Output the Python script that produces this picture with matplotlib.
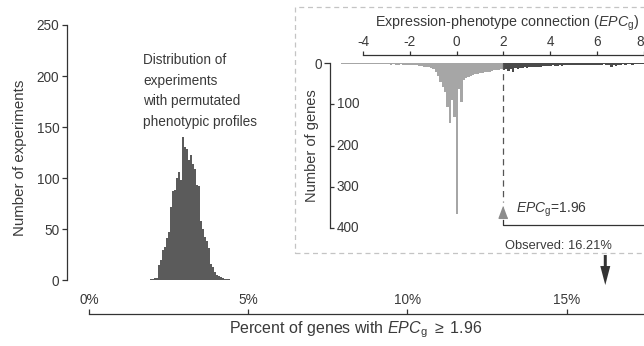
import numpy as np
import matplotlib
matplotlib.use("Agg")
import matplotlib.pyplot as plt
from matplotlib.patches import Rectangle, FancyArrow
from matplotlib.ticker import FixedLocator, FixedFormatter

plt.rcParams['font.family'] = ['Liberation Sans', 'DejaVu Sans']
plt.rcParams['mathtext.fontset'] = 'custom'
plt.rcParams['mathtext.rm'] = 'Liberation Sans'
plt.rcParams['mathtext.it'] = 'Liberation Sans:italic'
plt.rcParams['axes.unicode_minus'] = False

# ---------------- data ----------------
# permutation distribution (percent of genes with EPCg >= 1.96)
perm_bin_start = 1.92
perm_bin_width = 0.0625
perm_counts = [1, 1, 2, 2, 15, 20, 29, 32, 41, 47, 72, 87, 88, 100, 106, 98,
               140, 130, 128, 118, 123, 114, 109, 93, 92, 58, 50, 42, 38, 31,
               16, 13, 8, 5, 4, 3, 2, 1, 1, 1]
perm_xticks = [0, 5, 10, 15]
perm_xticklabels = ['0%', '5%', '10%', '15%']
perm_yticks = [0, 50, 100, 150, 200, 250]
observed_pct = 16.21

# inset: EPCg histogram of genes
epc_threshold = 1.96
epc_bin_width = 0.1
epc_low_counts = [1, 1, 1, 1, 1, 1, 1, 1, 2, 1, 1, 2, 1, 2, 2, 1, 2, 2, 2,
                  2, 2, 3, 2, 3, 3, 2, 3, 3, 4,
                  4, 4, 5, 5, 6,
                  7, 8, 9, 10, 12,
                  15, 20, 30, 45, 58,
                  70, 106, 146, 90, 130, 365, 62, 93, 40, 36, 33, 30, 28, 27,
                  26, 24, 23, 22, 21, 20, 18, 17, 17, 16, 15]
epc_high_counts = [16, 15, 18,
                   13, 20, 12, 14,
                   11, 12, 10, 11,
                   9, 10, 8, 9, 9, 8,
                   7, 6, 6, 7, 5, 6, 6, 5, 6, 5,
                   4, 4, 5, 4, 4, 3, 4, 4, 3, 4, 3, 4, 3, 3,
                   3, 3, 2, 3, 3,
                   8, 3, 7, 3,
                   3, 2, 3, 2, 2, 3, 2, 2, 2, 2, 2,
                   2, 2, 1, 2, 1, 1, 2, 1, 1, 1, 1, 1, 1, 1, 1, 1, 1, 1, 1, 1]
epc_xticks = [-4, -2, 0, 2, 4, 6, 8]
epc_major_yticks = [100, 200, 300, 400]

# ---------------- figure ----------------
W, H = 644, 346
fig = plt.figure(figsize=(W / 100, H / 100), dpi=100)


def fx(px):
    return px / W


def fy(py):
    return 1 - py / H


TXT = '#3a3a3a'
AX = '#333333'
TICK_FS = 9.8

# main axes
ax = fig.add_axes([fx(67), fy(314), (726 - 67) / W, (314 - 10) / H])
ax.set_facecolor('none')
perm_edges = perm_bin_start + perm_bin_width * np.arange(len(perm_counts) + 1)
ax.stairs(perm_counts, perm_edges, fill=True, color='#5b5b5b', lw=0)
ax.set_xlim(-0.69, 20)
ax.set_ylim(-33.3, 264.7)
for s in ['right', 'bottom']:
    ax.spines[s].set_visible(False)
ax.spines['left'].set_bounds(0, 250)
ax.spines['top'].set_position(('axes', 0.0))
ax.spines['top'].set_bounds(0, 20)
for s in ['left', 'top']:
    ax.spines[s].set_color(AX)
    ax.spines[s].set_linewidth(0.9)
ax.xaxis.set_ticks_position('top')
ax.set_xticks(perm_xticks)
ax.set_xticklabels(perm_xticklabels)
ax.set_yticks(perm_yticks)
ax.tick_params(axis='x', direction='out', length=3.6, width=0.9, color=AX,
               labelsize=TICK_FS, labelcolor=TXT, pad=1.5)
ax.tick_params(axis='y', direction='out', length=3.6, width=0.9, color=AX,
               labelsize=TICK_FS, labelcolor=TXT, pad=2)

fig.text(fx(20), fy(158), 'Number of experiments', rotation=90, ha='center',
         va='center', fontsize=10.8, color=TXT)
fig.text(fx(356), fy(330), r'Percent of genes with $\mathit{EPC}_\mathrm{g}$ $\geq$ 1.96',
         ha='center', va='center', fontsize=11.5, color=TXT)
fig.text(fx(143), fy(53), 'Distribution of\nexperiments\nwith permutated\nphenotypic profiles',
         ha='left', va='top', fontsize=9.8, color=TXT, linespacing=1.6)

# observed arrow
y_top = (280 - 255) / 1.02
y_bot = (280 - 285) / 1.02
ax.add_patch(FancyArrow(observed_pct, y_top, 0, y_bot - y_top, width=3 / 31.87,
                        head_width=10 / 31.87, head_length=19 / 1.02,
                        length_includes_head=True, color='#333333', lw=0,
                        clip_on=False))

# dashed inset frame
fig.add_artist(Rectangle((fx(295), fy(253.3)), (720 - 295) / W, (253.3 - 7.3) / H,
                         transform=fig.transFigure, fill=False, edgecolor='#c4c4c4',
                         lw=0.9, ls=(0, (4, 3))))

# inset axes
ax2 = fig.add_axes([fx(330), fy(228), (690.7 - 330) / W, (228 - 63.3) / H])
ax2.set_facecolor('none')
n_low = len(epc_low_counts)
low_edges = np.round(epc_threshold + epc_bin_width * np.arange(-n_low, 1), 3)
high_edges = np.round(epc_threshold + epc_bin_width * np.arange(len(epc_high_counts) + 1), 3)
ax2.stairs(epc_low_counts, low_edges, fill=True, color='#a6a6a6', lw=0)
ax2.stairs(epc_high_counts, high_edges, fill=True, color='#4a4a4a', lw=0)
X0 = -5.41
ax2.set_xlim(X0, 10)
ax2.set_ylim(400, 0)
for s in ['right', 'bottom']:
    ax2.spines[s].set_visible(False)
ax2.spines['left'].set_bounds(0, 400)
ax2.spines['top'].set_position(('outward', 5.8))
ax2.spines['top'].set_bounds(-4, 10)
for s in ['left', 'top']:
    ax2.spines[s].set_color(AX)
    ax2.spines[s].set_linewidth(0.9)
ax2.xaxis.tick_top()
ax2.set_xticks(epc_xticks)
ax2.set_xticklabels([str(v) for v in epc_xticks])
ax2.get_xticklabels()[-1].set_horizontalalignment('right')
ax2.tick_params(axis='x', direction='out', length=3, width=0.9, color=AX,
                labelsize=TICK_FS, labelcolor=TXT, pad=1.2)
fig.text(fx(507), fy(23), r'Expression-phenotype connection ($\mathit{EPC}_\mathrm{g}$)',
         ha='center', va='center', fontsize=10.3, color=TXT)

ax2.set_yticks(epc_major_yticks)
ax2.set_yticklabels([])
ax2.tick_params(axis='y', which='major', direction='in', length=3, width=0.9,
                color=AX)
for v in epc_major_yticks:
    ax2.text(X0 + 6.5 / 23.4, v, str(v), ha='left', va='center',
             fontsize=TICK_FS, color=TXT)
ax2.yaxis.set_minor_locator(FixedLocator([0]))
ax2.yaxis.set_minor_formatter(FixedFormatter(['0']))
ax2.tick_params(axis='y', which='minor', direction='out', length=4.3, width=0.9,
                color=AX, labelsize=TICK_FS, labelcolor=TXT, pad=1.5)
ax2.text(X0 - 18 / 23.4, 200, 'Number of genes', rotation=90, ha='center',
         va='center', fontsize=10.5, color=TXT, clip_on=False)

# threshold annotations
ax2.plot([epc_threshold, epc_threshold], [0, 338], color='#555555', lw=0.9,
         dashes=(5, 3.5))
ax2.plot([epc_threshold], [360], marker=[(0, 1), (-0.75, -1), (0.75, -1)],
         markersize=8.4, color='#8c8c8c', clip_on=False, lw=0)
ax2.text(2.53, 355, r'$\mathit{EPC}_\mathrm{g}$=1.96', ha='left', va='center',
         fontsize=10, color=TXT)
ax2.plot([epc_threshold, epc_threshold, 10], [380, 393, 393], color=AX, lw=0.9,
         clip_on=False)
ax2.text(2.06, 443, 'Observed: 16.21%', ha='left', va='center', fontsize=9.3,
         color=TXT, clip_on=False)

fig.savefig('out.png', dpi=100)
